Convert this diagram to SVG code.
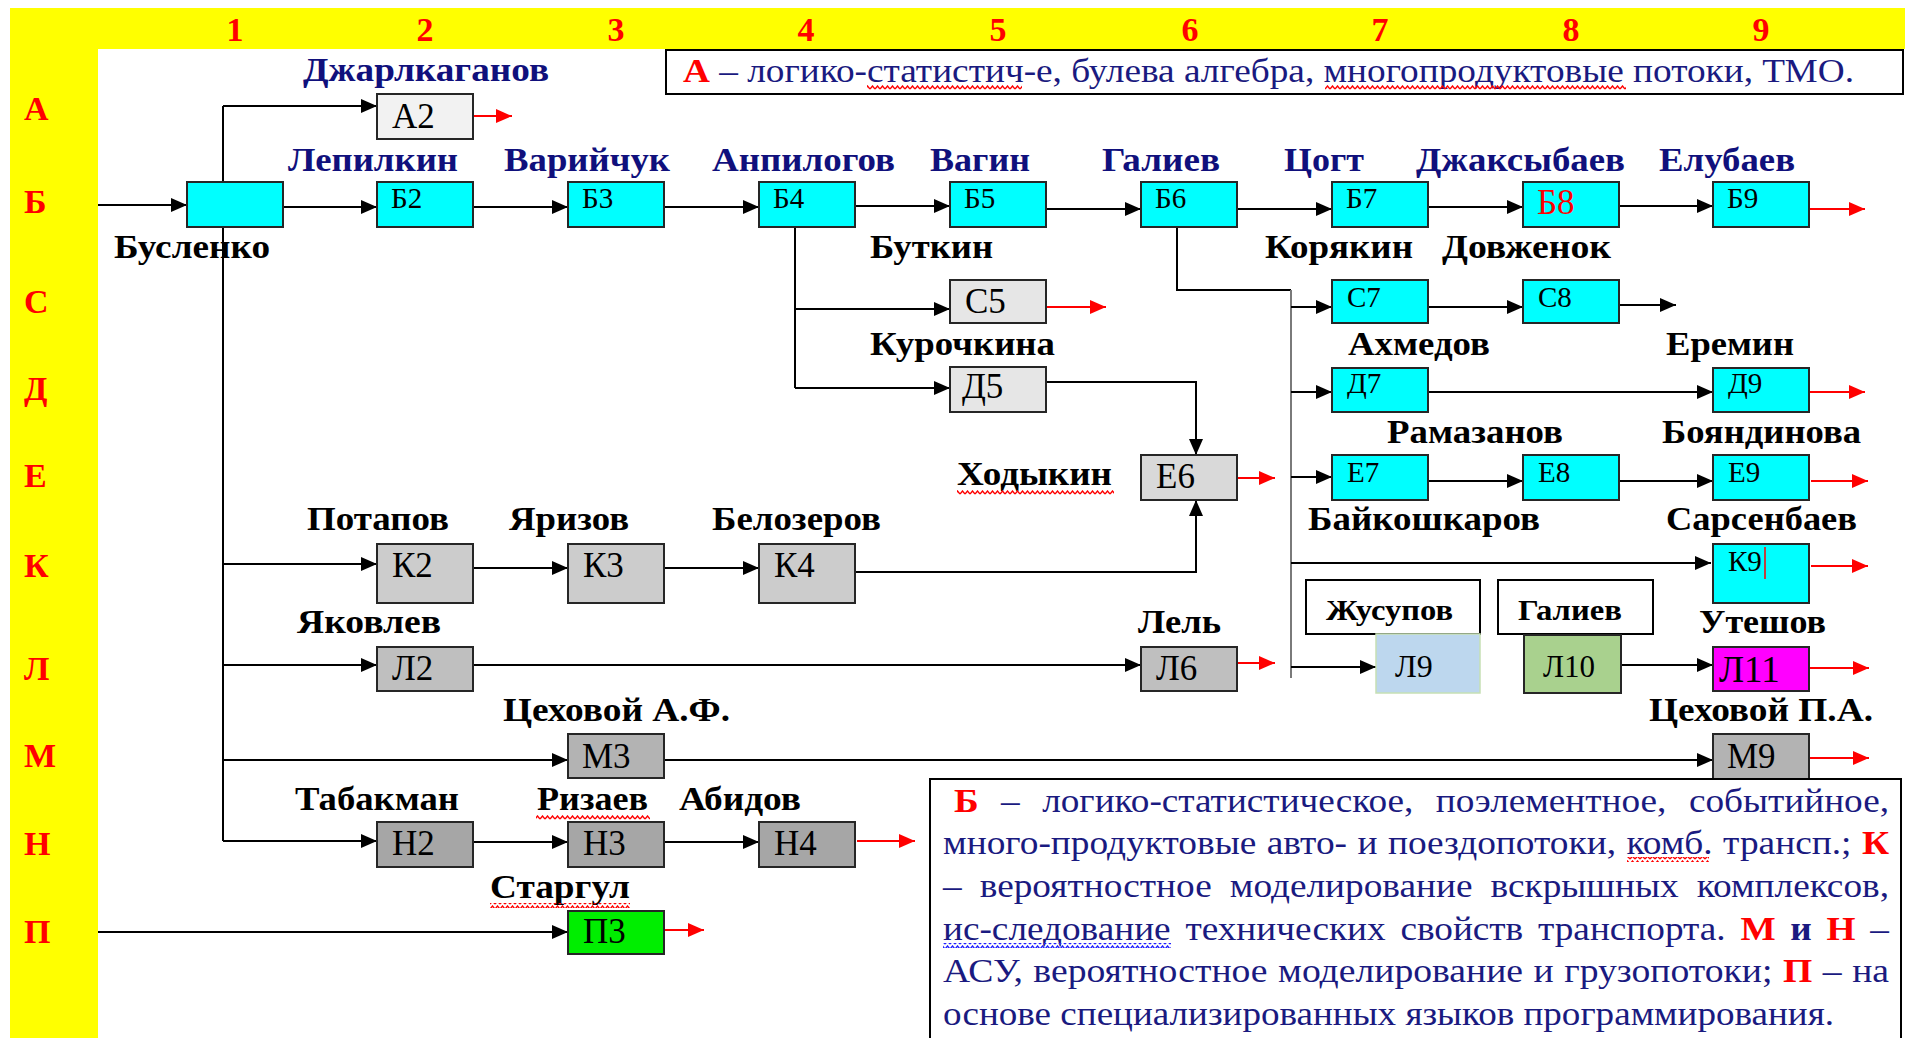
<svg xmlns="http://www.w3.org/2000/svg" width="1912" height="1038" viewBox="0 0 1912 1038">
<style>
text{font-family:"Liberation Serif","Times New Roman",serif}
.hd{font-size:34px;font-weight:bold;fill:#ff0000}
.nm{font-size:33px;font-weight:bold;fill:#000}
.nb{fill:#10107c}
.lb{font-size:35px;fill:#000}
.lc{font-size:29px;fill:#000}
.bx{stroke:#262626;stroke-width:2}
.cn{stroke:#000;stroke-width:2;fill:none}
.gr{stroke:#7a7a7a;stroke-width:2;fill:none}
.rd{stroke:#ff0000;stroke-width:2;fill:none}
.tx{font-size:34px;fill:#1a1a80}
.r{fill:#ff0000;font-weight:bold}
.b{font-weight:bold}
</style>
<defs>
<marker id="ah" markerUnits="userSpaceOnUse" markerWidth="16" markerHeight="14" refX="16" refY="7" orient="auto"><path d="M0,0 L16,7 L0,14 Z" fill="#000"/></marker>
<marker id="ar" markerUnits="userSpaceOnUse" markerWidth="16" markerHeight="14" refX="16" refY="7" orient="auto"><path d="M0,0 L16,7 L0,14 Z" fill="#ff0000"/></marker>
<pattern id="wr" width="5" height="5" patternUnits="userSpaceOnUse"><path d="M0,4 L2.5,1 L5,4" stroke="#ff0000" stroke-width="1.4" fill="none"/></pattern>
<pattern id="wb" width="5" height="5" patternUnits="userSpaceOnUse"><path d="M0,4 L2.5,1 L5,4" stroke="#2020ff" stroke-width="1.4" fill="none"/></pattern>
</defs>
<rect x="0" y="0" width="1912" height="1038" fill="#fff"/>
<path d="M10,8 H1905 V49 H98 V1038 H10 Z" fill="#ffff00"/>
<g id="col-headers" class="hd" text-anchor="middle">
<text x="235" y="41">1</text><text x="425" y="41">2</text><text x="616" y="41">3</text><text x="806" y="41">4</text><text x="998" y="41">5</text><text x="1190" y="41">6</text><text x="1380" y="41">7</text><text x="1571" y="41">8</text><text x="1761" y="41">9</text>
</g>
<g id="row-headers" class="hd">
<text x="24" y="120">А</text><text x="24" y="213">Б</text><text x="24" y="313">С</text><text x="24" y="400">Д</text><text x="24" y="487">Е</text><text x="24" y="577">К</text><text x="24" y="680">Л</text><text x="24" y="767">М</text><text x="24" y="855">Н</text><text x="24" y="943">П</text>
</g>
<g id="legend-A">
<rect x="666" y="50" width="1237" height="44" fill="#fff" stroke="#000" stroke-width="2"/>
<text class="tx" x="683" y="82" textLength="1171" lengthAdjust="spacingAndGlyphs"><tspan class="r">А</tspan> – логико-статистич-е, булева алгебра, многопродуктовые потоки, ТМО.</text>
<rect x="867" y="85" width="155" height="5" fill="url(#wr)"/>
<rect x="1325" y="85" width="301" height="5" fill="url(#wr)"/>
</g>
<g id="connectors">
<path class="cn" d="M223,106 V841"/>
<path class="cn" d="M795,227 V388"/>
<path class="cn" d="M1177,227 V290 H1291"/>
<path class="gr" d="M1291,290 V678"/>
<path class="cn" marker-end="url(#ah)" d="M98,205 H187"/>
<path class="cn" marker-end="url(#ah)" d="M283,207 H377"/>
<path class="cn" marker-end="url(#ah)" d="M473,207 H568"/>
<path class="cn" marker-end="url(#ah)" d="M664,207 H759"/>
<path class="cn" marker-end="url(#ah)" d="M855,206 H950"/>
<path class="cn" marker-end="url(#ah)" d="M1046,209 H1141"/>
<path class="cn" marker-end="url(#ah)" d="M1237,209 H1332"/>
<path class="cn" marker-end="url(#ah)" d="M1428,207 H1523"/>
<path class="cn" marker-end="url(#ah)" d="M1619,206 H1713"/>
<path class="cn" marker-end="url(#ah)" d="M223,106 H377"/>
<path class="cn" marker-end="url(#ah)" d="M223,564 H377"/>
<path class="cn" marker-end="url(#ah)" d="M223,665 H377"/>
<path class="cn" marker-end="url(#ah)" d="M223,760 H568"/>
<path class="cn" marker-end="url(#ah)" d="M223,841 H377"/>
<path class="cn" marker-end="url(#ah)" d="M795,309 H950"/>
<path class="cn" marker-end="url(#ah)" d="M795,388 H950"/>
<path class="cn" marker-end="url(#ah)" d="M1046,382 H1196 V455"/>
<path class="cn" marker-end="url(#ah)" d="M855,572 H1196 V500"/>
<path class="cn" marker-end="url(#ah)" d="M473,568 H568"/>
<path class="cn" marker-end="url(#ah)" d="M664,568 H759"/>
<path class="cn" marker-end="url(#ah)" d="M1291,307 H1332"/>
<path class="cn" marker-end="url(#ah)" d="M1291,392 H1332"/>
<path class="cn" marker-end="url(#ah)" d="M1291,477 H1332"/>
<path class="cn" marker-end="url(#ah)" d="M1291,563 H1711"/>
<path class="cn" marker-end="url(#ah)" d="M1291,667 H1376"/>
<path class="cn" marker-end="url(#ah)" d="M1428,307 H1523"/>
<path class="cn" marker-end="url(#ah)" d="M1619,305 H1676"/>
<path class="cn" marker-end="url(#ah)" d="M1428,392 H1713"/>
<path class="cn" marker-end="url(#ah)" d="M1428,481 H1523"/>
<path class="cn" marker-end="url(#ah)" d="M1619,481 H1713"/>
<path class="cn" marker-end="url(#ah)" d="M473,665 H1141"/>
<path class="cn" marker-end="url(#ah)" d="M1621,665 H1713"/>
<path class="cn" marker-end="url(#ah)" d="M664,760 H1713"/>
<path class="cn" marker-end="url(#ah)" d="M473,842 H568"/>
<path class="cn" marker-end="url(#ah)" d="M664,842 H759"/>
<path class="cn" marker-end="url(#ah)" d="M98,932 H568"/>
<path class="rd" marker-end="url(#ar)" d="M473,116 H512"/>
<path class="rd" marker-end="url(#ar)" d="M1809,209 H1865"/>
<path class="rd" marker-end="url(#ar)" d="M1046,307 H1106"/>
<path class="rd" marker-end="url(#ar)" d="M1237,478 H1275"/>
<path class="rd" marker-end="url(#ar)" d="M1809,392 H1865"/>
<path class="rd" marker-end="url(#ar)" d="M1811,481 H1868"/>
<path class="rd" marker-end="url(#ar)" d="M1811,566 H1868"/>
<path class="rd" marker-end="url(#ar)" d="M1237,663 H1275"/>
<path class="rd" marker-end="url(#ar)" d="M1809,668 H1869"/>
<path class="rd" marker-end="url(#ar)" d="M1809,758 H1869"/>
<path class="rd" marker-end="url(#ar)" d="M857,841 H915"/>
<path class="rd" marker-end="url(#ar)" d="M664,930 H704"/>
</g>
<g id="n-B1"><rect class="bx" x="187" y="182" width="96" height="45" fill="#00ffff"/><text class="nm" x="114" y="258" textLength="156" lengthAdjust="spacingAndGlyphs">Бусленко</text></g>
<g id="n-A2"><rect class="bx" x="377" y="94" width="96" height="45" fill="#f2f2f2"/><text class="lb" x="392" y="128">А2</text><text class="nm nb" x="303" y="81" textLength="246" lengthAdjust="spacingAndGlyphs">Джарлкаганов</text></g>
<g id="n-B2"><rect class="bx" x="377" y="182" width="96" height="45" fill="#00ffff"/><text class="lc" x="391" y="208">Б2</text><text class="nm nb" x="288" y="171" textLength="170" lengthAdjust="spacingAndGlyphs">Лепилкин</text></g>
<g id="n-B3"><rect class="bx" x="568" y="182" width="96" height="45" fill="#00ffff"/><text class="lc" x="582" y="208">Б3</text><text class="nm nb" x="504" y="171" textLength="166" lengthAdjust="spacingAndGlyphs">Варийчук</text></g>
<g id="n-B4"><rect class="bx" x="759" y="182" width="96" height="45" fill="#00ffff"/><text class="lc" x="773" y="208">Б4</text><text class="nm nb" x="712" y="171" textLength="183" lengthAdjust="spacingAndGlyphs">Анпилогов</text></g>
<g id="n-B5"><rect class="bx" x="950" y="182" width="96" height="45" fill="#00ffff"/><text class="lc" x="964" y="208">Б5</text><text class="nm nb" x="930" y="171" textLength="100" lengthAdjust="spacingAndGlyphs">Вагин</text></g>
<g id="n-B6"><rect class="bx" x="1141" y="182" width="96" height="45" fill="#00ffff"/><text class="lc" x="1155" y="208">Б6</text><text class="nm nb" x="1102" y="171" textLength="118" lengthAdjust="spacingAndGlyphs">Галиев</text></g>
<g id="n-B7"><rect class="bx" x="1332" y="182" width="96" height="45" fill="#00ffff"/><text class="lc" x="1346" y="208">Б7</text><text class="nm nb" x="1284" y="171" textLength="80" lengthAdjust="spacingAndGlyphs">Цогт</text></g>
<g id="n-B8"><rect class="bx" x="1523" y="182" width="96" height="45" fill="#00ffff"/><text class="lb" x="1537" y="214" style="fill:#ff0000">Б8</text><text class="nm nb" x="1416" y="171" textLength="209" lengthAdjust="spacingAndGlyphs">Джаксыбаев</text></g>
<g id="n-B9"><rect class="bx" x="1713" y="182" width="96" height="45" fill="#00ffff"/><text class="lc" x="1727" y="208">Б9</text><text class="nm nb" x="1659" y="171" textLength="136" lengthAdjust="spacingAndGlyphs">Елубаев</text></g>
<g id="n-C5"><rect class="bx" x="950" y="280" width="96" height="43" fill="#e6e6e6"/><text class="lb" x="965" y="313">С5</text><text class="nm" x="870" y="258" textLength="123" lengthAdjust="spacingAndGlyphs">Буткин</text></g>
<g id="n-D5"><rect class="bx" x="950" y="367" width="96" height="45" fill="#e6e6e6"/><text class="lb" x="962" y="398">Д5</text><text class="nm" x="870" y="355" textLength="185" lengthAdjust="spacingAndGlyphs">Курочкина</text></g>
<g id="n-E6"><rect class="bx" x="1141" y="455" width="96" height="45" fill="#d9d9d9"/><text class="lb" x="1156" y="488">Е6</text><text class="nm" x="957" y="485" textLength="155" lengthAdjust="spacingAndGlyphs">Ходыкин</text><rect x="957" y="490" width="157" height="5" fill="url(#wr)"/></g>
<g id="n-K2"><rect class="bx" x="377" y="544" width="96" height="59" fill="#cccccc"/><text class="lb" x="392" y="577">К2</text><text class="nm" x="307" y="530" textLength="142" lengthAdjust="spacingAndGlyphs">Потапов</text></g>
<g id="n-K3"><rect class="bx" x="568" y="544" width="96" height="59" fill="#cccccc"/><text class="lb" x="583" y="577">К3</text><text class="nm" x="509" y="530" textLength="120" lengthAdjust="spacingAndGlyphs">Яризов</text></g>
<g id="n-K4"><rect class="bx" x="759" y="544" width="96" height="59" fill="#cccccc"/><text class="lb" x="774" y="577">К4</text><text class="nm" x="712" y="530" textLength="169" lengthAdjust="spacingAndGlyphs">Белозеров</text></g>
<g id="n-C7"><rect class="bx" x="1332" y="280" width="96" height="43" fill="#00ffff"/><text class="lc" x="1347" y="307">С7</text><text class="nm" x="1265" y="258" textLength="148" lengthAdjust="spacingAndGlyphs">Корякин</text></g>
<g id="n-C8"><rect class="bx" x="1523" y="280" width="96" height="43" fill="#00ffff"/><text class="lc" x="1538" y="307">С8</text><text class="nm" x="1442" y="258" textLength="169" lengthAdjust="spacingAndGlyphs">Довженок</text></g>
<g id="n-D7"><rect class="bx" x="1332" y="368" width="96" height="44" fill="#00ffff"/><text class="lc" x="1347" y="393">Д7</text><text class="nm" x="1348" y="355" textLength="142" lengthAdjust="spacingAndGlyphs">Ахмедов</text></g>
<g id="n-D9"><rect class="bx" x="1713" y="368" width="96" height="44" fill="#00ffff"/><text class="lc" x="1728" y="393">Д9</text><text class="nm" x="1666" y="355" textLength="128" lengthAdjust="spacingAndGlyphs">Еремин</text></g>
<g id="n-E7"><rect class="bx" x="1332" y="455" width="96" height="45" fill="#00ffff"/><text class="lc" x="1347" y="482">Е7</text><text class="nm" x="1308" y="530" textLength="232" lengthAdjust="spacingAndGlyphs">Байкошкаров</text></g>
<g id="n-E8"><rect class="bx" x="1523" y="455" width="96" height="45" fill="#00ffff"/><text class="lc" x="1538" y="482">Е8</text><text class="nm" x="1387" y="443" textLength="176" lengthAdjust="spacingAndGlyphs">Рамазанов</text></g>
<g id="n-E9"><rect class="bx" x="1713" y="455" width="96" height="45" fill="#00ffff"/><text class="lc" x="1728" y="482">Е9</text><text class="nm" x="1662" y="443" textLength="199" lengthAdjust="spacingAndGlyphs">Бояндинова</text></g>
<g id="n-K9"><rect class="bx" x="1713" y="544" width="96" height="59" fill="#00ffff"/><text class="lc" x="1728" y="571">К9</text><path d="M1765,547 V579" stroke="#ff0000" stroke-width="1.5"/><text class="nm" x="1666" y="530" textLength="191" lengthAdjust="spacingAndGlyphs">Сарсенбаев</text></g>
<g id="n-L9"><rect x="1306" y="580" width="174" height="54" fill="#fff" stroke="#000" stroke-width="2"/><text class="nm" x="1326" y="620" style="font-size:29px" textLength="127" lengthAdjust="spacingAndGlyphs">Жусупов</text><rect x="1376" y="634" width="104" height="59" fill="#bdd7ee" stroke="#c6e0b4" stroke-width="1.5"/><text class="lb" x="1395" y="677" style="font-size:32px">Л9</text></g>
<g id="n-L10"><rect x="1498" y="580" width="155" height="54" fill="#fff" stroke="#000" stroke-width="2"/><text class="nm" x="1518" y="620" style="font-size:29px" textLength="104" lengthAdjust="spacingAndGlyphs">Галиев</text><rect class="bx" x="1524" y="635" width="97" height="58" fill="#a9d18e"/><text class="lb" x="1543" y="677" style="font-size:31px">Л10</text></g>
<g id="n-L11"><rect class="bx" x="1713" y="647" width="96" height="44" fill="#ff00ff"/><text class="lb" x="1719" y="682" style="font-size:37px">Л11</text><text class="nm" x="1699" y="633" textLength="127" lengthAdjust="spacingAndGlyphs">Утешов</text></g>
<g id="n-L2"><rect class="bx" x="377" y="647" width="96" height="44" fill="#bfbfbf"/><text class="lb" x="392" y="680">Л2</text><text class="nm" x="297" y="633" textLength="144" lengthAdjust="spacingAndGlyphs">Яковлев</text></g>
<g id="n-L6"><rect class="bx" x="1141" y="647" width="96" height="44" fill="#bfbfbf"/><text class="lb" x="1156" y="680">Л6</text><text class="nm" x="1138" y="633" textLength="83" lengthAdjust="spacingAndGlyphs">Лель</text></g>
<g id="n-M3"><rect class="bx" x="568" y="734" width="96" height="44" fill="#b3b3b3"/><text class="lb" x="582" y="768">М3</text><text class="nm" x="503" y="721" textLength="227" lengthAdjust="spacingAndGlyphs">Цеховой А.Ф.</text></g>
<g id="n-M9"><rect class="bx" x="1713" y="734" width="96" height="45" fill="#b3b3b3"/><text class="lb" x="1727" y="768">М9</text><text class="nm" x="1649" y="721" textLength="224" lengthAdjust="spacingAndGlyphs">Цеховой П.А.</text></g>
<g id="n-H2"><rect class="bx" x="377" y="822" width="96" height="45" fill="#a6a6a6"/><text class="lb" x="392" y="855">Н2</text><text class="nm" x="295" y="810" textLength="164" lengthAdjust="spacingAndGlyphs">Табакман</text></g>
<g id="n-H3"><rect class="bx" x="568" y="822" width="96" height="45" fill="#a6a6a6"/><text class="lb" x="583" y="855">Н3</text><text class="nm" x="537" y="810" textLength="111" lengthAdjust="spacingAndGlyphs">Ризаев</text><rect x="536" y="815" width="114" height="5" fill="url(#wr)"/></g>
<g id="n-H4"><rect class="bx" x="759" y="822" width="96" height="45" fill="#a6a6a6"/><text class="lb" x="774" y="855">Н4</text><text class="nm" x="679" y="810" textLength="122" lengthAdjust="spacingAndGlyphs">Абидов</text></g>
<g id="n-P3"><rect class="bx" x="568" y="911" width="96" height="43" fill="#00ee00"/><text class="lb" x="583" y="943">П3</text><text class="nm" x="490" y="898" textLength="140" lengthAdjust="spacingAndGlyphs">Старгул</text><rect x="490" y="903" width="140" height="5" fill="url(#wr)"/></g>
<g id="legend-B">
<rect x="930" y="779" width="971" height="270" fill="#fff" stroke="#000" stroke-width="2"/>
<text class="tx" x="954" y="812" textLength="935" lengthAdjust="spacingAndGlyphs" word-spacing="12"><tspan class="r">Б</tspan> – логико-статистическое, поэлементное, событийное,</text>
<text class="tx" x="943" y="854" textLength="946" lengthAdjust="spacingAndGlyphs" word-spacing="1">много-продуктовые авто- и поездопотоки, комб. трансп.; <tspan class="r">К</tspan></text>
<text class="tx" x="943" y="897" textLength="946" lengthAdjust="spacingAndGlyphs" word-spacing="8">– вероятностное моделирование вскрышных комплексов,</text>
<text class="tx" x="943" y="940" textLength="946" lengthAdjust="spacingAndGlyphs" word-spacing="5">ис-следование технических свойств транспорта. <tspan class="r">М</tspan> <tspan class="b">и</tspan> <tspan class="r">Н</tspan> –</text>
<text class="tx" x="943" y="982" textLength="946" lengthAdjust="spacingAndGlyphs" word-spacing="1">АСУ, вероятностное моделирование и грузопотоки; <tspan class="r">П</tspan> – на</text>
<text class="tx" x="943" y="1025" textLength="891" lengthAdjust="spacingAndGlyphs">основе специализированных языков программирования.</text>
<rect x="1627" y="857" width="82" height="5" fill="url(#wr)"/>
<rect x="943" y="943" width="228" height="5" fill="url(#wb)"/>
</g>
</svg>
